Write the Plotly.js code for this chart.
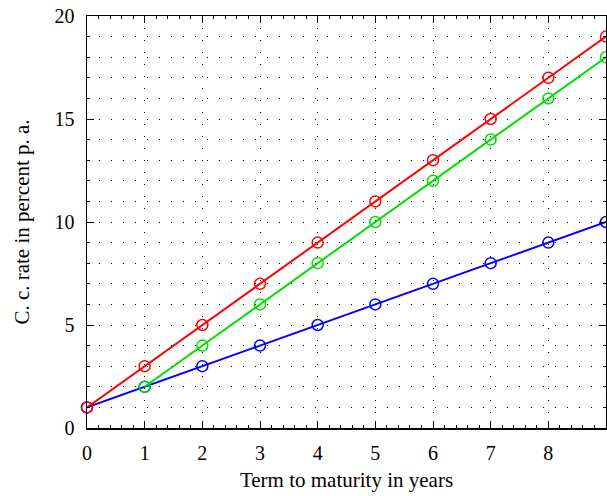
<!DOCTYPE html>
<html>
<head>
<meta charset="utf-8">
<script src="https://cdn.plot.ly/plotly-3.0.1.min.js"></script>
<style>html,body{margin:0;padding:0;background:#fff;}#chart{width:607px;height:496px;}</style>
</head>
<body>
<div id="chart"></div>
<script>
const xRed = [0,1,2,3,4,5,6,7,8,9];
const yRed = [1,3,5,7,9,11,13,15,17,19];
const xGreen = [1,2,3,4,5,6,7,8,9];
const yGreen = [2,4,6,8,10,12,14,16,18];
const xBlue = [0,1,2,3,4,5,6,7,8,9];
const yBlue = [1,2,3,4,5,6,7,8,9,10];
const xTicks = [0,1,2,3,4,5,6,7,8];
const yTicks = [0,5,10,15,20];
const xTitle = 'Term to maturity in years';
const yTitle = 'C. c. rate in percent p. a.';

function tr(x, y, color) {
  return {x: x, y: y, type: 'scatter', mode: 'lines+markers',
    line: {color: color, width: 2},
    marker: {symbol: 'circle-open', size: 11, color: color, line: {width: 1.5, color: color}},
    cliponaxis: false, showlegend: false};
}
const fam = 'Liberation Serif, Times New Roman, serif';
const tickFont = {family: fam, size: 20, color: '#000'};
const titleFont = {family: fam, size: 21, color: '#000'};
const dots = '1px,11px';
const layout = {
  width: 607, height: 496,
  margin: {l: 87, r: 1, t: 16, b: 68},
  paper_bgcolor: '#fff', plot_bgcolor: '#fff',
  font: tickFont,
  xaxis: {range: [0, 9], tickmode: 'array', tickvals: xTicks, ticktext: xTicks.map(String),
    ticks: 'inside', ticklen: 7, tickwidth: 1, tickcolor: '#000', ticklabelstandoff: 6,
    showline: true, linewidth: 1.5, linecolor: '#000', mirror: 'ticks',
    showgrid: true, gridcolor: '#000', gridwidth: 1, griddash: dots,
    zeroline: false, tickfont: tickFont,
    minor: {tick0: 0, dtick: 0.2, ticks: 'inside', ticklen: 3, tickcolor: '#000', showgrid: false},
    title: {text: xTitle, font: titleFont, standoff: 10}},
  yaxis: {range: [0, 20], tickmode: 'array', tickvals: yTicks, ticktext: yTicks.map(String),
    ticks: 'inside', ticklen: 7, tickwidth: 1, tickcolor: '#000', ticklabelstandoff: 7,
    showline: true, linewidth: 1.5, linecolor: '#000', mirror: 'ticks',
    showgrid: true, gridcolor: '#000', gridwidth: 1, griddash: dots,
    zeroline: false, tickfont: tickFont,
    minor: {tick0: 0, dtick: 1, ticks: 'inside', ticklen: 3, tickcolor: '#000', showgrid: true, gridcolor: '#000', gridwidth: 1, griddash: dots},
    title: {text: yTitle, font: titleFont, standoff: 19}},
};
Plotly.newPlot('chart', [tr(xBlue, yBlue, '#0000ff'), tr(xGreen, yGreen, '#00e000'), tr(xRed, yRed, '#ff0000')], layout, {staticPlot: true});
</script>
</body>
</html>
